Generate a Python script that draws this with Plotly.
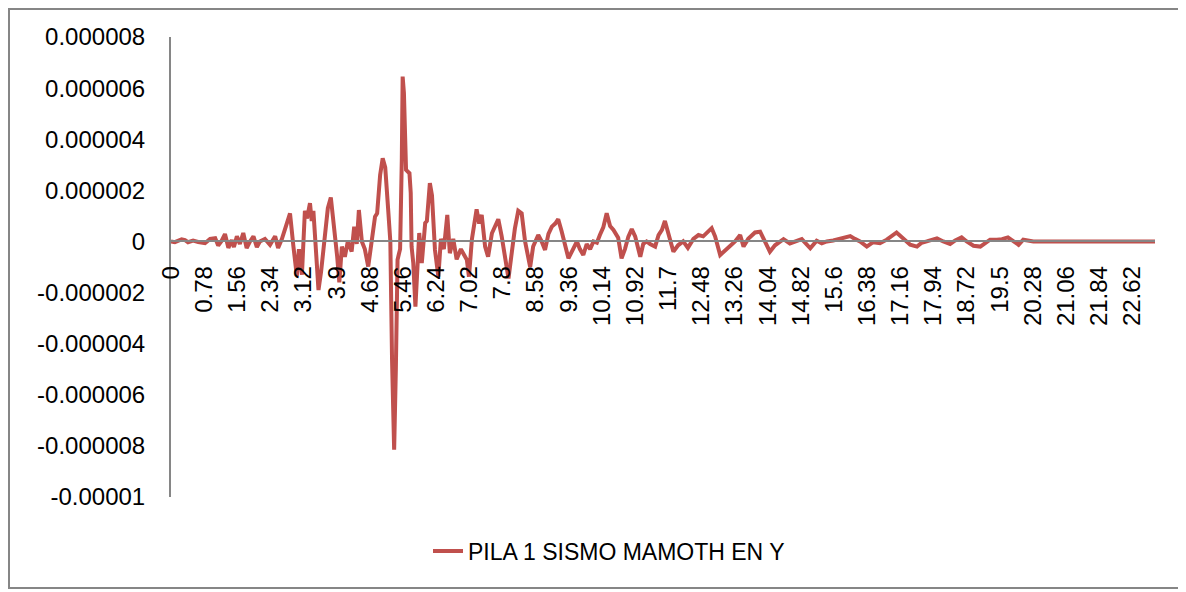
import plotly.graph_objects as go

# Time (s) of key points
time_s = [0, 0.09, 0.25, 0.33, 0.40, 0.52, 0.64, 0.80, 0.92, 1.04, 1.11, 1.19, 1.27, 1.35, 1.43, 1.48,
          1.55, 1.62, 1.70, 1.78, 1.86, 1.94, 2.02, 2.09, 2.21, 2.33, 2.45, 2.52, 2.61, 2.71, 2.80, 2.88,
          2.96, 3.01, 3.08, 3.15, 3.20, 3.27, 3.31, 3.35, 3.39, 3.47, 3.53, 3.62, 3.69, 3.76, 3.84, 3.91,
          3.96, 4.02, 4.09, 4.16, 4.25, 4.31, 4.37, 4.42, 4.49, 4.56, 4.64, 4.72, 4.80, 4.85, 4.92, 4.98,
          5.04, 5.11, 5.16, 5.20, 5.25, 5.29, 5.33, 5.36, 5.39, 5.43, 5.45, 5.48, 5.51, 5.53, 5.61, 5.64,
          5.66, 5.70, 5.75, 5.79, 5.84, 5.90, 5.98, 6.02, 6.09, 6.14, 6.21, 6.29, 6.35, 6.42, 6.50, 6.56,
          6.64, 6.72, 6.82, 6.96, 7.01, 7.08, 7.19, 7.25, 7.31, 7.39, 7.46, 7.55, 7.62, 7.70, 7.78, 7.86,
          7.94, 8.02, 8.09, 8.17, 8.25, 8.33, 8.45, 8.52, 8.64, 8.72, 8.80, 8.88, 8.96, 9.04, 9.11, 9.19,
          9.27, 9.35, 9.46, 9.55, 9.62, 9.70, 9.78, 9.86, 9.94, 10.02, 10.09, 10.17, 10.25, 10.33, 10.41,
          10.52, 10.60, 10.68, 10.76, 10.84, 10.92, 11.04, 11.11, 11.19, 11.27, 11.39, 11.47, 11.55, 11.62,
          11.69, 11.82, 11.93, 12.05, 12.16, 12.29, 12.41, 12.52, 12.72, 12.80, 12.92, 13.04, 13.15, 13.27,
          13.39, 13.47, 13.58, 13.74, 13.86, 13.98, 14.09, 14.21, 14.41, 14.56, 14.68, 14.84, 15.04, 15.19,
          15.31, 15.43, 15.58, 15.78, 15.98, 16.09, 16.21, 16.37, 16.52, 16.68, 16.84, 17.07, 17.23, 17.39,
          17.55, 17.66, 17.78, 18.02, 18.17, 18.33, 18.45, 18.60, 18.72, 18.88, 19.04, 19.15, 19.27, 19.43,
          19.55, 19.69, 19.78, 19.94, 20.05, 20.17, 20.29, 23.15]

# Displacement in micro-units (x 1e-6)
disp_micro = [0, -0.03, 0.08, 0.05, -0.03, 0.03, -0.02, -0.07, 0.10, 0.13, -0.16, 0.02, 0.29, -0.25, 0.05, -0.22,
              0.20, -0.10, 0.33, -0.26, 0.00, 0.20, -0.22, 0.00, 0.10, -0.13, 0.20, -0.26, 0.10, 0.60, 1.10, -0.20,
              -1.35, -0.30, -1.30, 1.20, 0.90, 1.50, 0.80, 1.20, 0.30, -1.90, -1.20, 0.20, 1.30, 1.72, 0.60, -0.60,
              -1.60, -0.20, -0.60, 0.00, -0.40, 0.58, -0.10, 1.23, 0.00, -0.30, -0.98, 0.00, 0.97, 1.10, 2.60, 3.25,
              2.90, 1.23, 0.00, -4.60, -8.15, -5.00, -0.72, -0.50, -0.30, 3.20, 6.45, 5.80, 4.50, 2.80, 2.67, 1.90,
              -0.20, -0.85, -2.55, -1.50, 0.33, -0.85, 0.72, 0.80, 2.28, 1.80, -0.33, -1.38, 0.10, -0.30, 1.04, -0.46,
              0.10, -0.70, -0.30, -0.72, -1.38, 0.10, 1.26, 0.70, 1.04, -0.20, -0.60, 0.32, 0.60, 0.87, 0.20, -0.60,
              -1.45, -0.40, 0.50, 1.20, 1.10, 0.00, -1.00, -0.20, 0.25, 0.00, -0.33, 0.30, 0.58, 0.70, 0.87, 0.40,
              -0.20, -0.66, -0.30, 0.00, -0.30, -0.53, -0.10, -0.30, 0.00, -0.05, 0.25, 0.55, 1.10, 0.60, 0.45,
              0.15, -0.66, -0.30, 0.19, 0.48, 0.20, -0.60, -0.10, 0.00, -0.10, -0.20, 0.25, 0.45, 0.80,
              0.40, -0.40, -0.15, 0.00, -0.25, 0.10, 0.25, 0.20, 0.52, 0.20, -0.53, -0.35, -0.20, 0.00,
              0.25, -0.20, 0.10, 0.35, 0.38, 0.00, -0.40, -0.15, 0.09, -0.08, 0.00, 0.09, -0.27, 0.03,
              -0.07, 0.00, 0.04, 0.12, 0.21, 0.10, 0.00, -0.20, -0.03, -0.07, 0.07, 0.35, 0.13, -0.13,
              -0.20, -0.05, 0.00, 0.12, 0.00, -0.10, 0.04, 0.16, 0.00, -0.17, -0.20, -0.07, 0.07, 0.07,
              0.09, 0.16, 0.07, -0.13, 0.07, 0.04, 0.00, 0.00]

disp = [v * 1e-6 for v in disp_micro]

x_tick_vals = [0, 0.78, 1.56, 2.34, 3.12, 3.9, 4.68, 5.46, 6.24, 7.02, 7.8, 8.58, 9.36, 10.14, 10.92,
               11.7, 12.48, 13.26, 14.04, 14.82, 15.6, 16.38, 17.16, 17.94, 18.72, 19.5, 20.28, 21.06,
               21.84, 22.62]
x_tick_text = ["0", "0.78", "1.56", "2.34", "3.12", "3.9", "4.68", "5.46", "6.24", "7.02", "7.8", "8.58",
               "9.36", "10.14", "10.92", "11.7", "12.48", "13.26", "14.04", "14.82", "15.6", "16.38",
               "17.16", "17.94", "18.72", "19.5", "20.28", "21.06", "21.84", "22.62"]
y_tick_vals = [8e-6, 6e-6, 4e-6, 2e-6, 0, -2e-6, -4e-6, -6e-6, -8e-6, -1e-5]
y_tick_text = ["0.000008", "0.000006", "0.000004", "0.000002", "0", "-0.000002", "-0.000004",
               "-0.000006", "-0.000008", "-0.00001"]
series_name = "PILA 1 SISMO MAMOTH EN Y"

RED = "#C0504D"
GRAY = "#868686"
FONT = "Liberation Sans, Arial, sans-serif"

# page body has an 8px margin: figure drawn at (8, 8)
OFF = 8
W, H = 1186 - OFF, 592 - OFF
L, T = 171 - OFF, 37 - OFF
PW, PH = 984, 460
R, B = W - L - PW, H - T - PH

fig = go.Figure()
fig.add_trace(go.Scatter(x=time_s, y=disp, mode="lines", name=series_name,
                         line=dict(color=RED, width=4), showlegend=True))

y_min, y_max = -1e-5, 8e-6
fig.update_layout(
    width=W, height=H,
    margin=dict(l=L, r=R, t=T, b=B, autoexpand=False),
    paper_bgcolor="white", plot_bgcolor="white",
    font=dict(family=FONT, color="black"),
    xaxis=dict(range=[0, 23.15], anchor="free", position=(0 - y_min) / (y_max - y_min),
               tickmode="array", tickvals=x_tick_vals, ticktext=x_tick_text, tickangle=-90,
               showgrid=False, zeroline=False, showline=True, linecolor=GRAY, linewidth=2,
               ticks="", ticklabelstandoff=14, automargin=False,
               tickfont=dict(size=24, family=FONT, color="black")),
    yaxis=dict(range=[y_min, y_max], tickmode="array", tickvals=y_tick_vals, ticktext=y_tick_text,
               showgrid=False, zeroline=False, showline=True, linecolor=GRAY, linewidth=2,
               ticks="", ticklabelstandoff=19, automargin=False,
               tickfont=dict(size=24, family=FONT, color="black")),
    legend=dict(orientation="h", xref="paper", yref="paper",
                x=(609 - 171) / PW, y=(497 - 551) / PH,
                xanchor="center", yanchor="middle", font=dict(size=23, family=FONT, color="black"),
                bgcolor="rgba(0,0,0,0)"),
    shapes=[dict(type="rect", xref="paper", yref="paper",
                 x0=(1 - L) / PW, x1=(1181 - OFF - L) / PW,
                 y0=(PH + T - (588 - OFF)) / PH, y1=(PH + T - 1) / PH,
                 line=dict(color=GRAY, width=2), fillcolor="rgba(0,0,0,0)", layer="below")],
)

fig.write_html("out.html")
